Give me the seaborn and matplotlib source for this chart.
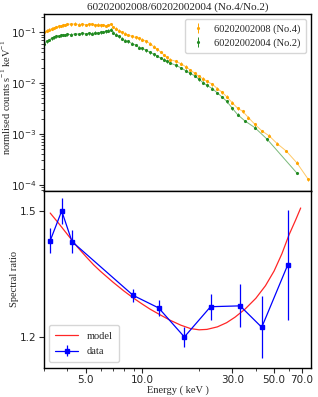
import seaborn as sns
import matplotlib.pyplot as plt
import matplotlib.ticker as mticker
import pandas as pd

sns.set_style("ticks")
plt.rcParams['axes.edgecolor'] = 'black'
plt.rcParams['axes.linewidth'] = 1
serif = ['Liberation Serif', 'DejaVu Serif']

# spectra (keV, normalised counts)
e_no4 = [3.0, 3.1, 3.2, 3.3, 3.4, 3.5, 3.6, 3.7, 3.8, 3.9, 4.0, 4.2, 4.4, 4.6, 4.8,
         5.0, 5.2, 5.4, 5.6, 5.8, 6.0, 6.2, 6.4, 6.6, 6.8, 7.0, 7.2, 7.5, 7.8, 8.1,
         8.4, 8.8, 9.2, 9.6, 10.0, 10.5, 11.0, 11.5, 12.0, 12.5, 13.0, 13.5, 14.0,
         15.0, 16.0, 17.0, 18.0, 19.0, 20.0, 21.0, 22.0, 23.5, 25.0, 26.5, 28.0,
         30.0, 32.0, 34.0, 36.5, 39.5, 43.0, 47.0, 52.0, 58.0, 66.0, 76.0]
c_no4 = [0.100, 0.108, 0.112, 0.118, 0.122, 0.127, 0.130, 0.133, 0.137, 0.140, 0.146,
         0.143, 0.147, 0.142, 0.144, 0.140, 0.143, 0.146, 0.138, 0.141, 0.137, 0.140,
         0.134, 0.139, 0.145, 0.128, 0.118, 0.108, 0.100, 0.094, 0.089, 0.083, 0.079,
         0.076, 0.072, 0.066, 0.060, 0.052, 0.046, 0.041, 0.036, 0.032, 0.029, 0.027,
         0.024, 0.021, 0.018, 0.0155, 0.0135, 0.0122, 0.0108, 0.0095, 0.0078, 0.0066,
         0.0054, 0.0041, 0.0032, 0.0028, 0.0021, 0.00155, 0.00115, 0.00092, 0.00064,
         0.00046, 0.00027, 0.000127]

e_no2 = [3.0, 3.1, 3.2, 3.3, 3.4, 3.5, 3.6, 3.7, 3.8, 3.9, 4.0, 4.2, 4.4, 4.6, 4.8,
         5.0, 5.2, 5.4, 5.6, 5.8, 6.0, 6.2, 6.4, 6.6, 6.8, 7.0, 7.2, 7.5, 7.8, 8.1,
         8.4, 8.8, 9.2, 9.6, 10.0, 10.5, 11.0, 11.5, 12.0, 12.5, 13.0, 13.5, 14.0,
         15.0, 16.0, 17.0, 18.0, 19.0, 20.0, 21.0, 22.0, 23.5, 25.0, 26.5, 28.0,
         30.0, 32.0, 35.0, 39.5, 46.0, 66.0]
c_no2 = [0.060, 0.066, 0.071, 0.076, 0.080, 0.083, 0.085, 0.087, 0.089, 0.088, 0.091,
         0.090, 0.093, 0.092, 0.095, 0.093, 0.096, 0.094, 0.098, 0.097, 0.100, 0.101,
         0.104, 0.107, 0.112, 0.098, 0.090, 0.083, 0.075, 0.068, 0.066, 0.060, 0.056,
         0.050, 0.048, 0.044, 0.040, 0.037, 0.034, 0.031, 0.029, 0.027, 0.025, 0.0225,
         0.020, 0.0175, 0.0155, 0.0138, 0.0118, 0.0102, 0.0090, 0.0078, 0.0064, 0.0053,
         0.0044, 0.0032, 0.0024, 0.0018, 0.00133, 0.00078, 0.00017]

# spectral ratio (bottom panel)
e_ratio = [3.24, 3.73, 4.23, 8.93, 12.2, 16.7, 23.0, 33.0, 43.0, 59.0]
ratio = [1.429, 1.500, 1.427, 1.299, 1.269, 1.200, 1.272, 1.274, 1.223, 1.371]
ratio_err = [0.030, 0.031, 0.028, 0.016, 0.020, 0.024, 0.031, 0.051, 0.074, 0.131]

e_model = [3.24, 3.6, 4.0, 4.5, 5.0, 5.5, 6.0, 7.0, 8.0, 9.0, 10.0, 11.0, 12.5,
           14.0, 16.0, 18.0, 20.0, 22.0, 25.0, 28.0, 31.0, 35.0, 40.0, 45.0, 50.0,
           55.0, 60.0, 65.0, 69.2]
model = [1.495, 1.470, 1.444, 1.415, 1.392, 1.372, 1.356, 1.330, 1.309, 1.292,
         1.278, 1.266, 1.252, 1.240, 1.228, 1.220, 1.217, 1.218, 1.224, 1.234,
         1.247, 1.266, 1.292, 1.322, 1.357, 1.398, 1.443, 1.478, 1.507]

df4 = pd.DataFrame({'E': e_no4, 'c': c_no4})
df2 = pd.DataFrame({'E': e_no2, 'c': c_no2})
dfm = pd.DataFrame({'E': e_model, 'r': model})

fig = plt.figure(figsize=(3.18, 3.97), dpi=100)
gs = fig.add_gridspec(2, 1, left=0.138, right=0.978, top=0.965, bottom=0.074, hspace=0)
ax1 = fig.add_subplot(gs[0])
ax2 = fig.add_subplot(gs[1], sharex=ax1)

orange = '#FFA500'
green = '#228B22'
sns.lineplot(x='E', y='c', data=df4, ax=ax1, color=orange, lw=0.7, alpha=0.6,
             estimator=None, sort=False)
sns.lineplot(x='E', y='c', data=df2, ax=ax1, color=green, lw=0.7, alpha=0.6,
             estimator=None, sort=False)
ax1.errorbar(e_no4, c_no4, yerr=[v * 0.06 for v in c_no4], fmt='.', ms=2.5,
             color=orange, elinewidth=0.7, capsize=0, label='60202002008 (No.4)')
ax1.errorbar(e_no2, c_no2, yerr=[v * 0.06 for v in c_no2], fmt='.', ms=2.5,
             color=green, elinewidth=0.7, capsize=0, label='60202002004 (No.2)')
ax1.set_yscale('log')
ax1.set_xscale('log')
ax1.set_ylim(7.6e-5, 0.23)
ax1.set_ylabel(r'normlised counts s$^{\mathregular{-1}}$ keV$^{\mathregular{-1}}$',
               family=serif, fontsize=7.5)
ax1.yaxis.set_label_coords(-0.115, 0.53)
ax1.set_title('60202002008/60202002004 (No.4/No.2)', family=serif, fontsize=8, pad=3)
ax1.tick_params(axis='x', which='both', bottom=False, labelbottom=False)
ax1.tick_params(axis='y', labelsize=7.5, pad=2)
ax1.set_xlabel('')
ax1.legend(loc='upper right', prop={'family': serif, 'size': 7.5}, handlelength=1.5,
           borderpad=0.5, labelspacing=0.4)

sns.lineplot(x='E', y='r', data=dfm, ax=ax2, color='red', lw=0.9, alpha=0.85,
             estimator=None, label='model')
ax2.errorbar(e_ratio, ratio, yerr=ratio_err, fmt='s-', ms=3.5, color='blue',
             lw=0.9, elinewidth=0.9, capsize=0, label='data')
ax2.set_xscale('log')
ax2.set_xlim(3.0, 78.5)
ax2.set_ylim(1.127, 1.548)
ax2.set_yticks([1.2, 1.5])
ax2.yaxis.set_major_formatter(mticker.FormatStrFormatter('%.1f'))
ax2.yaxis.set_minor_locator(mticker.NullLocator())
ax2.set_xticks([5, 10, 30, 50, 70])
ax2.xaxis.set_major_formatter(mticker.FormatStrFormatter('%.1f'))
ax2.xaxis.set_minor_formatter(mticker.NullFormatter())
ax2.tick_params(labelsize=7.5, pad=2)
ax2.set_xlabel('Energy ( keV )', family=serif, fontsize=7.5, labelpad=0)
ax2.set_ylabel('Spectral ratio', family=serif, fontsize=7.5)
ax2.yaxis.set_label_coords(-0.095, 0.5)
ax2.legend(loc='lower left', prop={'family': serif, 'size': 7.5}, handlelength=2.2,
           borderpad=0.6, labelspacing=0.6)

fig.savefig('out.png', dpi=100)
